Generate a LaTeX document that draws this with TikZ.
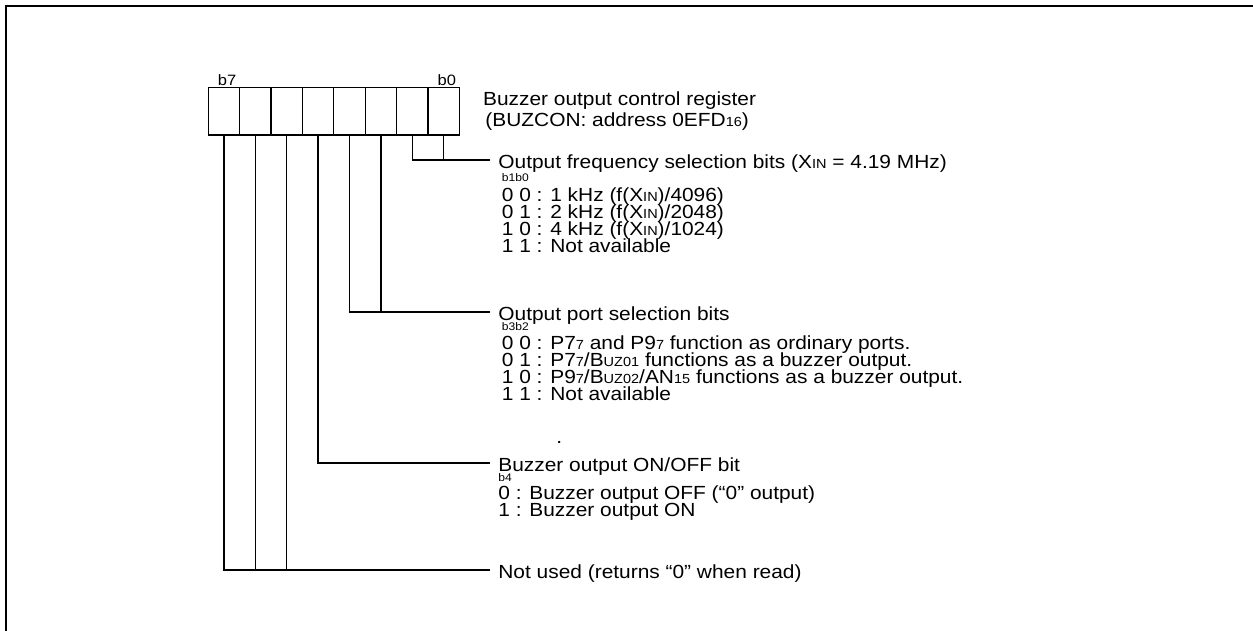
\documentclass[tikz,border=0pt]{standalone}
\usepackage{fontspec}
\setmainfont[FakeStretch=1.1]{Liberation Sans}
\usetikzlibrary{positioning}
\newcommand{\lo}[1]{{\fontsize{6.6}{7}\selectfont #1}}

\begin{document}
\begin{tikzpicture}[
  x=0.5pt, y=-0.5pt,
  font=\fontsize{9.5}{11}\selectfont,
  frame/.style={line width=1pt},
  cell/.style={draw, line width=0.65pt, minimum width=15.6875pt, minimum height=23.65pt, inner sep=0pt, outer sep=0pt},
  bitline/.style={line width=0.65pt},
  head/.style={anchor=west, inner xsep=4pt, inner ysep=0pt, text height=0.95em, text depth=0.1em},
  row/.style={anchor=base west, inner sep=0pt},
  bitno/.style={anchor=base west, inner sep=0pt, font=\fontsize{5.5}{6}\selectfont},
  bitpos/.style={anchor=base west, inner sep=0pt, font=\fontsize{7.5}{8}\selectfont},
]
\useasboundingbox (0,0) rectangle (1253,631);

% ---- Marco ----
\draw[frame] (6,640) -- (6,6) -- (1260,6);

% ---- Registro ----
\foreach \b [count=\i from 0] in {7,6,5,4,3,2,1,0}
  \node[cell] (c\b) at ({224+31.375*\i},111.35) {};
\node[bitpos] (pos7) at (217.5,85.5) {b7};
\node[bitpos] (pos0) at (437.3,85.5) {b0};
\node[row] (title) at (482.7,105) {Buzzer output control register};
\node[row] (addr) at (485,126.7) {(BUZCON: address 0EFD\lo{16})};

% ---- Frecuencia ----
\node[head] (freq) at (490,160) {Output frequency selection bits (X\lo{IN} = 4.19 MHz)};
\node[bitno] (fbits) at (501.5,181.5) {b1b0};
\foreach \t [count=\i from 0] in {{0 0 : 1 kHz (f(X\lo{IN})/4096)},{0 1 : 2 kHz (f(X\lo{IN})/2048)},
    {1 0 : 4 kHz (f(X\lo{IN})/1024)},{1 1 : Not available}}
  \node[row] (f\i) at (501.5,{201+17*\i}) {\t};

% ---- Puerto ----
\node[head] (port) at (490,312) {Output port selection bits};
\node[bitno] (pbits) at (501.5,330.5) {b3b2};
\foreach \t [count=\i from 0] in {{0 0 : P7\lo{7} and P9\lo{7} function as ordinary ports.},
    {0 1 : P7\lo{7}/B\lo{UZ01} functions as a buzzer output.},
    {1 0 : P9\lo{7}/B\lo{UZ02}/AN\lo{15} functions as a buzzer output.},{1 1 : Not available}}
  \node[row] (p\i) at (501.5,{349+17*\i}) {\t};
\node[row] (dot) at (556,443) {.};

% ---- ON/OFF ----
\node[head] (onoff) at (490,463) {Buzzer output ON/OFF bit};
\node[bitno] (obits) at (498,481.5) {b4};
\node[row] (o0) at (498,499.5) {0 : Buzzer output OFF (“0” output)};
\node[row] (o1) at (498,516.5) {1 : Buzzer output ON};

% ---- Sin uso ----
\node[head] (unused) at (490,570) {Not used (returns “0” when read)};

% ---- Lineas ----
\draw[bitline] (c1.south) |- (freq.west);
\draw[bitline] (c0.south) -- (c0.south |- freq.west);
\draw[bitline] (c3.south) |- (port.west);
\draw[bitline] (c2.south) -- (c2.south |- port.west);
\draw[bitline] (c4.south) |- (onoff.west);
\draw[bitline] (c7.south) |- (unused.west);
\draw[bitline] (c6.south) -- (c6.south |- unused.west);
\draw[bitline] (c5.south) -- (c5.south |- unused.west);

\end{tikzpicture}
\end{document}
